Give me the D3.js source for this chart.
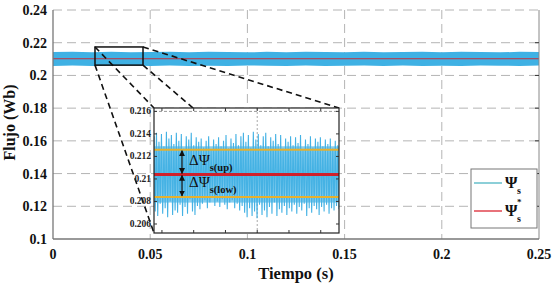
<!DOCTYPE html>
<html lang="es">
<head>
  <meta charset="UTF-8">
  <title>Flujo vs Tiempo</title>
  <script src="https://d3js.org/d3.v7.min.js"></script>
  <style>
    body { margin: 0; background: #fff; }
  </style>
</head>
<body>
  <div id="chart"></div>

  <script>
    // main axes ticks
    const xTicks = [0, 0.05, 0.1, 0.15, 0.2, 0.25];
    const yTicks = [0.1, 0.12, 0.14, 0.16, 0.18, 0.2, 0.22, 0.24];

    // envelope of the flux band (every 0.01 s)
    const bandTime = [0, 0.01, 0.02, 0.03, 0.04, 0.05, 0.06, 0.07, 0.08, 0.09, 0.1, 0.11, 0.12,
      0.13, 0.14, 0.15, 0.16, 0.17, 0.18, 0.19, 0.2, 0.21, 0.22, 0.23, 0.24, 0.25];
    const bandUpper = [0.2143, 0.2145, 0.2142, 0.2144, 0.2141, 0.2143, 0.2145, 0.2142, 0.2144, 0.2143,
      0.2141, 0.2144, 0.2142, 0.2145, 0.2143, 0.2142, 0.2144, 0.2141, 0.2143, 0.2145, 0.2142, 0.2144,
      0.2143, 0.2141, 0.2144, 0.2143];
    const bandLower = [0.2058, 0.2060, 0.2057, 0.2059, 0.2061, 0.2058, 0.2060, 0.2057, 0.2059, 0.2058,
      0.2061, 0.2059, 0.2057, 0.2060, 0.2058, 0.2059, 0.2061, 0.2057, 0.2060, 0.2058, 0.2059, 0.2057,
      0.2060, 0.2059, 0.2058, 0.2060];
    const fluxRef = 0.2102;

    // zoom window (time s, flux Wb)
    const zoomT = [0.0216, 0.0463];
    const zoomF = [0.2063, 0.2174];

    // inset: time in ms, flux samples (peak / trough pairs)
    const insetT = [22, 45.3];
    const insetXTicks = [23, 27, 31, 35, 39, 43];
    const insetYTicks = [0.206, 0.208, 0.21, 0.212, 0.214, 0.216];
    const insetFlux = [
      0.2138,0.2071, 0.2141,0.2067, 0.2133,0.2078, 0.2140,0.2069, 0.2129,0.2074, 0.2142,0.2066,
      0.2136,0.2080, 0.2139,0.2068, 0.2131,0.2072, 0.2141,0.2070, 0.2134,0.2077, 0.2140,0.2067,
      0.2127,0.2075, 0.2138,0.2069, 0.2135,0.2082, 0.2141,0.2071, 0.2130,0.2068, 0.2137,0.2076,
      0.2133,0.2073,
      0.2136,0.2078, 0.2128,0.2081, 0.2134,0.2074, 0.2138,0.2079, 0.2126,0.2083, 0.2135,0.2076,
      0.2131,0.2080, 0.2137,0.2075, 0.2129,0.2082, 0.2134,0.2077, 0.2139,0.2073, 0.2127,0.2079,
      0.2136,0.2081, 0.2132,0.2074, 0.2140,0.2078, 0.2130,0.2072, 0.2138,0.2076,
      0.2141,0.2070, 0.2133,0.2066, 0.2139,0.2074, 0.2128,0.2067, 0.2142,0.2071, 0.2135,0.2065,
      0.2140,0.2077, 0.2130,0.2068, 0.2138,0.2072, 0.2141,0.2066, 0.2129,0.2075, 0.2137,0.2069,
      0.2134,0.2079, 0.2140,0.2067, 0.2131,0.2073, 0.2139,0.2070, 0.2127,0.2076, 0.2136,0.2068,
      0.2133,0.2074,
      0.2138,0.2071, 0.2130,0.2077, 0.2137,0.2069, 0.2132,0.2075, 0.2139,0.2072, 0.2126,0.2078,
      0.2135,0.2067, 0.2131,0.2074, 0.2138,0.2070, 0.2128,0.2076, 0.2136,0.2073, 0.2133,0.2068,
      0.2137,0.2075, 0.2129,0.2071, 0.2135,0.2077, 0.2131,0.2069, 0.2136,0.2074, 0.2127,0.2072,
      0.2134,0.2076, 0.2130,0.2073
    ];
    // dense core of the inset signal
    const insetCore = [0.2079, 0.2129];
    const bandUp = 0.2126, bandRef = 0.2104, bandLow = 0.2084;

    const FONT = "Liberation Serif";
    const fmt = d3.format("~g");
    const W = 559, H = 287;
    const plot = { left: 53, right: 539, top: 10, bottom: 239 };
    const ins = { left: 154, right: 339, top: 108, bottom: 233 };

    const svg = d3.select("#chart").append("svg")
      .attr("width", W).attr("height", H)
      .attr("font-family", FONT);

    const x = d3.scaleLinear().domain([0, 0.25]).range([plot.left, plot.right]);
    const y = d3.scaleLinear().domain([0.1, 0.24]).range([plot.bottom, plot.top]);

    svg.append("defs").append("clipPath").attr("id", "clipMain")
      .append("rect").attr("x", plot.left).attr("y", plot.top)
      .attr("width", plot.right - plot.left).attr("height", plot.bottom - plot.top);

    // grid
    const grid = svg.append("g").attr("stroke", "#b4b4b4").attr("stroke-width", 1)
      .attr("stroke-dasharray", "9,5");
    grid.selectAll(".gy").data(yTicks.filter(d => d > 0.1)).enter().append("line")
      .attr("x1", plot.left).attr("x2", plot.right)
      .attr("y1", d => y(d)).attr("y2", d => y(d));
    grid.selectAll(".gx").data(xTicks.filter(d => d > 0 && d < 0.25)).enter().append("line")
      .attr("y1", plot.top).attr("y2", plot.bottom)
      .attr("x1", d => x(d)).attr("x2", d => x(d));

    // flux band
    const band = bandTime.map((t, i) => ({ t, hi: bandUpper[i], lo: bandLower[i] }));
    svg.append("path").datum(band)
      .attr("clip-path", "url(#clipMain)")
      .attr("fill", "#3fb1e4")
      .attr("d", d3.area().x(d => x(d.t)).y0(d => y(d.lo)).y1(d => y(d.hi)));
    svg.append("line")
      .attr("x1", x(0)).attr("x2", x(0.25))
      .attr("y1", y(fluxRef)).attr("y2", y(fluxRef))
      .attr("stroke", "#c0303c").attr("stroke-width", 1);

    // zoom rectangle
    svg.append("rect")
      .attr("x", x(zoomT[0])).attr("y", y(zoomF[1]))
      .attr("width", x(zoomT[1]) - x(zoomT[0])).attr("height", y(zoomF[0]) - y(zoomF[1]))
      .attr("fill", "none").attr("stroke", "#111").attr("stroke-width", 1.5);

    // connectors from zoom window corners to inset corners
    const conn = [
      [x(zoomT[0]), y(zoomF[1]), ins.left, ins.top],
      [x(zoomT[0]), y(zoomF[0]), ins.left, ins.bottom],
      [x(zoomT[1]), y(zoomF[1]), ins.right, ins.top],
      [x(zoomT[1]), y(zoomF[0]), ins.right, ins.bottom]
    ];
    svg.selectAll(".conn").data(conn).enter().append("line")
      .attr("x1", d => d[0]).attr("y1", d => d[1]).attr("x2", d => d[2]).attr("y2", d => d[3])
      .attr("stroke", "#111").attr("stroke-width", 1.6).attr("stroke-dasharray", "6,4");

    // main axes frame
    svg.append("line").attr("x1", plot.right).attr("x2", plot.right)
      .attr("y1", plot.top).attr("y2", plot.bottom).attr("stroke", "#888").attr("stroke-width", 1);
    svg.append("line").attr("x1", plot.left).attr("x2", plot.left)
      .attr("y1", plot.top).attr("y2", plot.bottom).attr("stroke", "#777").attr("stroke-width", 1.3);
    svg.append("line").attr("x1", plot.left).attr("x2", plot.right)
      .attr("y1", plot.bottom).attr("y2", plot.bottom).attr("stroke", "#777").attr("stroke-width", 1.3);
    svg.selectAll(".rtick").data(yTicks.filter(d => d > 0.1 && d < 0.24)).enter().append("line")
      .attr("x1", plot.right - 4).attr("x2", plot.right)
      .attr("y1", d => y(d)).attr("y2", d => y(d)).attr("stroke", "#333");

    const bold = sel => sel.attr("font-family", FONT).attr("font-weight", "bold").attr("fill", "#111");

    svg.selectAll(".ylab").data(yTicks).enter().append("text")
      .call(bold).attr("font-size", 14)
      .attr("x", plot.left - 6).attr("y", d => y(d) + 5)
      .attr("text-anchor", "end").text(d => fmt(d));
    svg.selectAll(".xlab").data(xTicks).enter().append("text")
      .call(bold).attr("font-size", 14)
      .attr("x", d => x(d)).attr("y", 259)
      .attr("text-anchor", "middle").text(d => fmt(d));

    svg.append("text").call(bold).attr("font-size", 16.5)
      .attr("x", (plot.left + plot.right) / 2).attr("y", 279)
      .attr("text-anchor", "middle").text("Tiempo (s)");
    svg.append("text").call(bold).attr("font-size", 16)
      .attr("transform", `translate(15, ${(plot.top + plot.bottom) / 2 - 2}) rotate(-90)`)
      .attr("text-anchor", "middle").text("Flujo (Wb)");

    // ---------- inset ----------
    const xi = d3.scaleLinear().domain(insetT).range([ins.left, ins.right]);
    const yi = d3.scaleLinear().domain([0.2052, 0.2163]).range([ins.bottom, ins.top]);
    const dt = (insetT[1] - insetT[0]) / (insetFlux.length - 1);

    svg.select("defs").append("clipPath").attr("id", "clipIns")
      .append("rect").attr("x", ins.left).attr("y", ins.top)
      .attr("width", ins.right - ins.left).attr("height", ins.bottom - ins.top);

    const gi = svg.append("g");
    gi.append("rect").attr("x", ins.left).attr("y", ins.top)
      .attr("width", ins.right - ins.left).attr("height", ins.bottom - ins.top)
      .attr("fill", "#fff");
    gi.append("line").attr("x1", ins.left).attr("x2", ins.right)
      .attr("y1", yi(0.216)).attr("y2", yi(0.216))
      .attr("stroke", "#999").attr("stroke-dasharray", "3,2");
    gi.append("line").attr("x1", xi(35)).attr("x2", xi(35))
      .attr("y1", ins.top).attr("y2", ins.bottom)
      .attr("stroke", "#aaa").attr("stroke-dasharray", "2,2");

    gi.append("rect")
      .attr("x", xi(insetT[0])).attr("width", xi(insetT[1]) - xi(insetT[0]))
      .attr("y", yi(insetCore[1])).attr("height", yi(insetCore[0]) - yi(insetCore[1]))
      .attr("fill", "#86cdee");
    gi.append("path").datum(insetFlux)
      .attr("clip-path", "url(#clipIns)")
      .attr("fill", "none").attr("stroke", "#45b2e4").attr("stroke-width", 1.1)
      .attr("d", d3.line().x((d, i) => xi(insetT[0] + i * dt)).y(d => yi(d)));

    const hl = [[bandUp, "#e6b12e", 2], [bandLow, "#e6b12e", 2], [bandRef, "#d0202c", 3]];
    gi.selectAll(".hl").data(hl).enter().append("line")
      .attr("x1", ins.left).attr("x2", ins.right)
      .attr("y1", d => yi(d[0])).attr("y2", d => yi(d[0]))
      .attr("stroke", d => d[1]).attr("stroke-width", d => d[2]);

    // double arrows
    const mk = svg.select("defs").append("marker").attr("id", "arr")
      .attr("viewBox", "0 0 10 10").attr("refX", 9).attr("refY", 5)
      .attr("markerWidth", 5).attr("markerHeight", 5).attr("orient", "auto-start-reverse");
    mk.append("path").attr("d", "M0,0L10,5L0,10Z").attr("fill", "#111");
    const ax = 182;
    [[bandUp, bandRef], [bandRef, bandLow]].forEach(p => {
      gi.append("line").attr("x1", ax).attr("x2", ax)
        .attr("y1", yi(p[0]) + 1).attr("y2", yi(p[1]) - 1)
        .attr("stroke", "#111").attr("stroke-width", 1.2)
        .attr("marker-start", "url(#arr)").attr("marker-end", "url(#arr)");
    });
    [["s(up)", 165], ["s(low)", 187]].forEach(d => {
      const t = gi.append("text").attr("font-family", FONT)
        .attr("x", 189).attr("y", d[1]).attr("fill", "#111");
      t.append("tspan").attr("font-size", 15).text("\u0394\u03A8");
      t.append("tspan").attr("font-size", 10.5).attr("font-weight", "bold")
        .attr("dy", 6).text(d[0]);
    });

    // inset frame + ticks
    gi.append("rect").attr("x", ins.left).attr("y", ins.top)
      .attr("width", ins.right - ins.left).attr("height", ins.bottom - ins.top)
      .attr("fill", "none").attr("stroke", "#222").attr("stroke-width", 1.2);
    gi.selectAll(".ixt").data(insetXTicks).enter().append("path")
      .attr("d", d => `M${xi(d)},${ins.bottom}v-3M${xi(d)},${ins.top}v3`)
      .attr("stroke", "#333");
    gi.selectAll(".iyt").data(insetYTicks).enter().append("path")
      .attr("d", d => `M${ins.left},${yi(d)}h3M${ins.right},${yi(d)}h-3`)
      .attr("stroke", "#333");
    gi.selectAll(".iyl").data(insetYTicks).enter().append("text")
      .call(bold).attr("font-size", 9.5).attr("fill", "#222")
      .attr("x", ins.left - 3).attr("y", d => yi(d) + 3)
      .attr("text-anchor", "end").text(d => fmt(d));

    // legend
    const lg = svg.append("g");
    lg.append("rect").attr("x", 471).attr("y", 169).attr("width", 66).attr("height", 59)
      .attr("fill", "#fff").attr("stroke", "#777");
    const legend = [["#8ccfd8", "", 183], ["#e8727a", "*", 211]];
    legend.forEach(d => {
      lg.append("line").attr("x1", 474).attr("x2", 502).attr("y1", d[2]).attr("y2", d[2])
        .attr("stroke", d[0]).attr("stroke-width", 2);
      lg.append("text").call(bold).attr("font-size", 16)
        .attr("x", 505).attr("y", d[2] + 5).text("\u03A8");
      lg.append("text").call(bold).attr("font-size", 10)
        .attr("x", 517).attr("y", d[2] + 11).text("s");
      if (d[1]) lg.append("text").call(bold).attr("font-size", 9)
        .attr("x", 517).attr("y", d[2] - 6).text(d[1]);
    });
  </script>
</body>
</html>
